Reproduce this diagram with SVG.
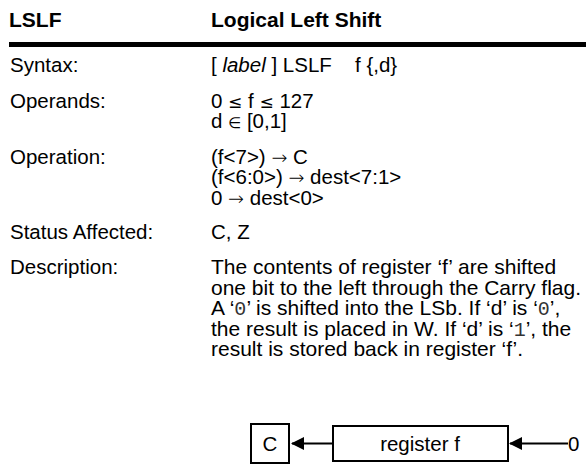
<svg xmlns="http://www.w3.org/2000/svg" width="586" height="467" viewBox="0 0 586 467">
<defs>
<style>
.t{font-family:"Liberation Sans",Arial,sans-serif;font-size:20.5px;fill:#000}
.d{font-family:"Liberation Sans",Arial,sans-serif;font-size:21px;fill:#000}
.b{font-family:"Liberation Sans",Arial,sans-serif;font-size:21px;font-weight:bold;fill:#000}
.m{font-family:"Liberation Mono","Courier New",monospace;font-size:20px;fill:#333}
.s{font-family:"DejaVu Sans",sans-serif;font-size:17px}
.a{font-family:"DejaVu Sans",sans-serif;font-size:19px;font-weight:200}
.e{font-family:"DejaVu Sans",sans-serif;font-size:15px}
.box{fill:#fff;stroke:#000;stroke-width:2}
.ln{stroke:#000;stroke-width:2;fill:none}
</style>
<marker id="ah" viewBox="0 0 13 13" refX="12" refY="6.5" markerWidth="13" markerHeight="13" markerUnits="userSpaceOnUse" orient="auto">
<path d="M0,0 L13,6.5 L0,13 z" fill="#000"/>
</marker>
</defs>
<rect width="586" height="467" fill="#fff"/>
<g id="header">
<text class="b" x="9" y="27">LSLF</text>
<text class="b" x="211" y="27">Logical Left Shift</text>
<rect x="9" y="42" width="577" height="5" fill="#000"/>
</g>
<g id="labels">
<text class="t" x="10" y="72">Syntax:</text>
<text class="t" x="10" y="108">Operands:</text>
<text class="t" x="10" y="164">Operation:</text>
<text class="t" x="10" y="239">Status Affected:</text>
<text class="t" x="10" y="274">Description:</text>
</g>
<g id="values">
<text class="t" x="211" y="72">[ <tspan font-style="italic">label</tspan> ] LSLF</text>
<text class="t" x="355" y="72">f {,d}</text>
<text class="t" x="211" y="108">0 <tspan class="s">≤</tspan> f <tspan class="s">≤</tspan> 127</text>
<text class="t" x="211" y="128">d <tspan class="e">∈</tspan> [0,1]</text>
<text class="t" x="211" y="164">(f&lt;7&gt;) <tspan class="a">→</tspan> C</text>
<text class="t" x="211" y="184">(f&lt;6:0&gt;) <tspan class="a">→</tspan> dest&lt;7:1&gt;</text>
<text class="t" x="211" y="205">0 <tspan class="a">→</tspan> dest&lt;0&gt;</text>
<text class="t" x="211" y="239">C, Z</text>
<text class="d" x="211" y="274">The contents of register ‘f’ are shifted</text>
<text class="d" x="211" y="294.5">one bit to the left through the Carry flag.</text>
<text class="d" x="211" y="315">A ‘<tspan class="m">0</tspan>’ is shifted into the LSb. If ‘d’ is ‘<tspan class="m">0</tspan>’,</text>
<text class="d" x="211" y="335.5">the result is placed in W. If ‘d’ is ‘<tspan class="m">1</tspan>’, the</text>
<text class="d" x="211" y="356">result is stored back in register ‘f’.</text>
</g>
<g id="node-c">
<rect class="box" x="251" y="424" width="38" height="39"/>
<text class="t" x="270" y="451" text-anchor="middle">C</text>
</g>
<g id="node-register">
<rect class="box" x="333" y="426" width="175" height="35"/>
<text class="t" x="420" y="451" text-anchor="middle">register f</text>
</g>
<g id="node-zero">
<text class="t" x="568" y="451">0</text>
</g>
<g id="connectors">
<line class="ln" x1="333" y1="443.5" x2="292" y2="443.5" marker-end="url(#ah)"/>
<line class="ln" x1="568" y1="443.5" x2="510" y2="443.5" marker-end="url(#ah)"/>
</g>
</svg>
